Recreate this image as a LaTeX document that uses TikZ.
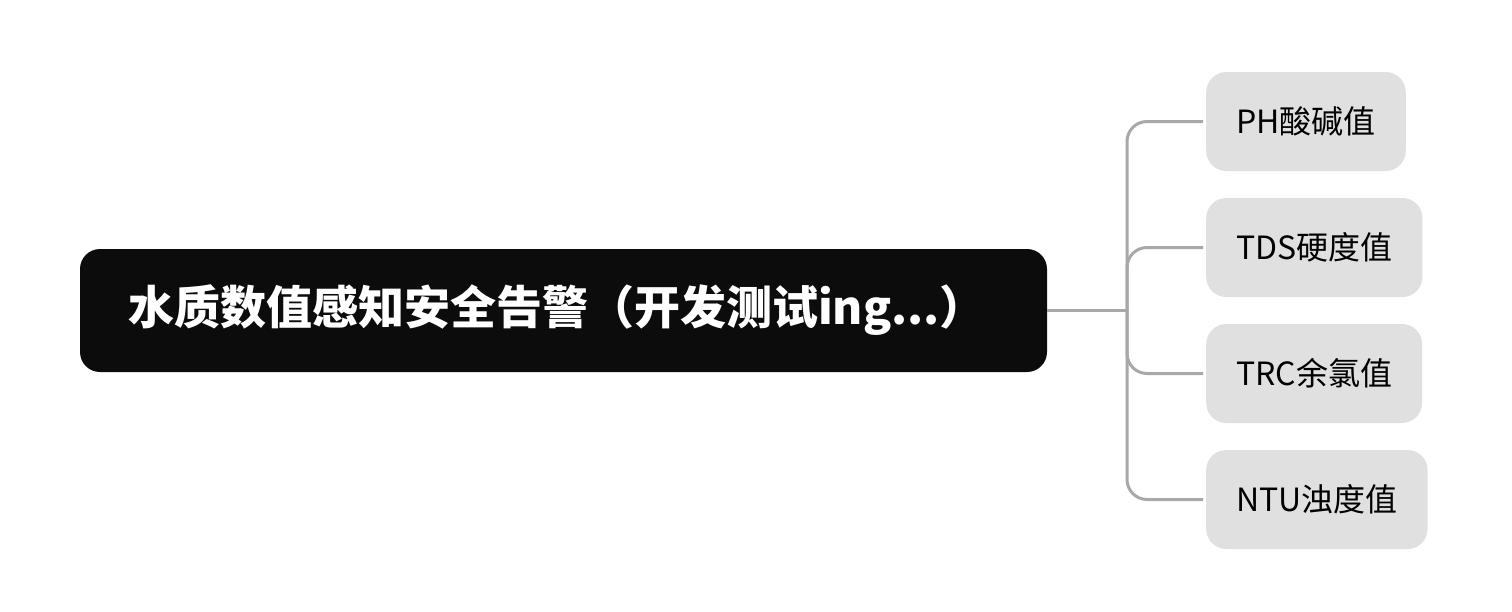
\documentclass[tikz,border=0pt]{standalone}
\usepackage{fontspec}
\setmainfont{Noto Sans CJK SC}
\usepackage{tikz}
\usetikzlibrary{positioning}

\definecolor{rootfill}{HTML}{0C0C0C}
\definecolor{leaffill}{HTML}{E0E0E0}
\definecolor{branchgray}{HTML}{A8A8A8}

\tikzset{
	rootbox/.style={rectangle,fill=rootfill,text=white,rounded corners=20pt,minimum width=967pt,minimum height=123pt,inner xsep=48pt,text width=871pt,align=left,font=\fontsize{46}{50}\selectfont\bfseries},
	leafbox/.style={rectangle,fill=leaffill,text=black,rounded corners=20pt,minimum height=99pt,inner xsep=30pt,anchor=west,font=\fontsize{32}{36}\selectfont},
	branch/.style={draw=branchgray,line width=3pt,rounded corners=20pt}
}

\begin{document}
\begin{tikzpicture}[x=1pt,y=-1pt]
		\useasboundingbox (0,0) rectangle (1512,611);

		% main topic
		\node[rootbox] (root) at (563.5,310.5) {水质数值感知安全告警（开发测试ing...）};

		% sensor values
		\node[leafbox] (ph) at (1206,121.5) {PH酸碱值};
		\node[leafbox] (tds) at (1206,247.5) {TDS硬度值};
		\node[leafbox] (trc) at (1206,373.5) {TRC余氯值};
		\node[leafbox] (ntu) at (1206,499.5) {NTU浊度值};

		% branches
		\draw[branch] (root.east) -- (1127,310.5) coordinate (fork);
		\foreach \leaf in {ph,tds,trc,ntu}
			\draw[branch,shorten >=3pt] (fork) |- (\leaf.west);
	\end{tikzpicture}
\end{document}
